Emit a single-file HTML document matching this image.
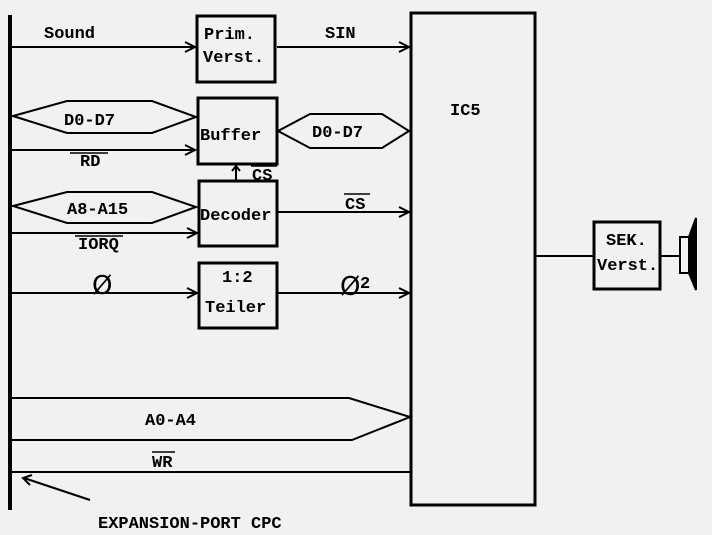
<!DOCTYPE html>
<html><head><meta charset="utf-8"><style>
html,body{margin:0;padding:0;background:#f1f1f0;}
svg{display:block}
text{font-family:"Liberation Mono","DejaVu Sans Mono",monospace;font-weight:bold;font-size:17px;fill:#000}
text.o{font-family:"DejaVu Sans","Liberation Sans",sans-serif;font-weight:normal;font-size:26px}
</style></head><body>
<svg width="712" height="535" viewBox="0 0 712 535" xmlns="http://www.w3.org/2000/svg">
<rect width="712" height="535" fill="#f1f1f0"/>
<g stroke="#000" fill="none" stroke-width="2">
<line x1="10" y1="15" x2="10" y2="510" stroke-width="4"/>
<rect x="197" y="16" width="78" height="66" stroke-width="3"/>
<rect x="198" y="98" width="79" height="66" stroke-width="3"/>
<rect x="199" y="181" width="78" height="65" stroke-width="3"/>
<rect x="199" y="263" width="78" height="65" stroke-width="3"/>
<rect x="411" y="13" width="124" height="492" stroke-width="3"/>
<rect x="594" y="222" width="66" height="67" stroke-width="3"/>
<line x1="12" y1="47" x2="195" y2="47"/><polyline points="185,42 195,47 185,52"/>
<line x1="277" y1="47" x2="409" y2="47"/><polyline points="399,42 409,47 399,52"/>
<polygon points="13,116 67,101 152,101 196,117 152,133 67,133"/>
<line x1="12" y1="150" x2="195" y2="150"/><polyline points="185,145 195,150 185,155"/>
<polygon points="278,131 310,114 382,114 409,131 382,148 310,148"/>
<line x1="236" y1="180" x2="236" y2="166"/><polyline points="232,171 236,166 240,171"/>
<polygon points="13,206 67,192 152,192 196,207 152,223 67,223"/>
<line x1="12" y1="233" x2="197" y2="233"/><polyline points="187,228 197,233 187,238"/>
<line x1="277" y1="212" x2="409" y2="212"/><polyline points="399,207 409,212 399,217"/>
<line x1="12" y1="293" x2="197" y2="293"/><polyline points="187,288 197,293 187,298"/>
<line x1="277" y1="293" x2="409" y2="293"/><polyline points="399,288 409,293 399,298"/>
<polyline points="12,398 349,398 410,417 352,440 12,440"/>
<line x1="12" y1="472" x2="410" y2="472"/>
<line x1="24" y1="478" x2="90" y2="500"/><polyline points="32,475 23,478 30,485"/>
<line x1="535" y1="256" x2="593" y2="256"/>
<line x1="660" y1="256" x2="680" y2="256"/>
<rect x="680" y="237" width="9" height="36"/>
<polygon points="689,237 696,218 696,290 689,273" fill="#000"/>
<line x1="70" y1="153" x2="108" y2="153" stroke-width="1.5"/>
<line x1="251" y1="166" x2="277" y2="166" stroke-width="1.5"/>
<line x1="344" y1="194" x2="370" y2="194" stroke-width="1.5"/>
<line x1="75" y1="236" x2="123" y2="236" stroke-width="1.5"/>
<line x1="152" y1="452" x2="175" y2="452" stroke-width="1.5"/>
</g>
<text x="44" y="38">Sound</text>
<text x="204" y="39">Prim.</text>
<text x="203" y="62">Verst.</text>
<text x="325" y="38">SIN</text>
<text x="450" y="115">IC5</text>
<text x="64" y="125">D0-D7</text>
<text x="200" y="140">Buffer</text>
<text x="80" y="166">RD</text>
<text x="312" y="137">D0-D7</text>
<text x="252" y="180">CS</text>
<text x="67" y="214">A8-A15</text>
<text x="200" y="220">Decoder</text>
<text x="345" y="209">CS</text>
<text x="78" y="249">IORQ</text>
<text x="222" y="282">1:2</text>
<text x="205" y="312">Teiler</text>
<text class="o" x="92" y="294">Ø</text>
<text class="o" x="340" y="295">Ø</text><text x="360" y="288">2</text>
<text x="145" y="425">A0-A4</text>
<text x="152" y="467">WR</text>
<text x="98" y="528">EXPANSION-PORT CPC</text>
<text x="606" y="245">SEK.</text>
<text x="597" y="270">Verst.</text>
</svg>
</body></html>
